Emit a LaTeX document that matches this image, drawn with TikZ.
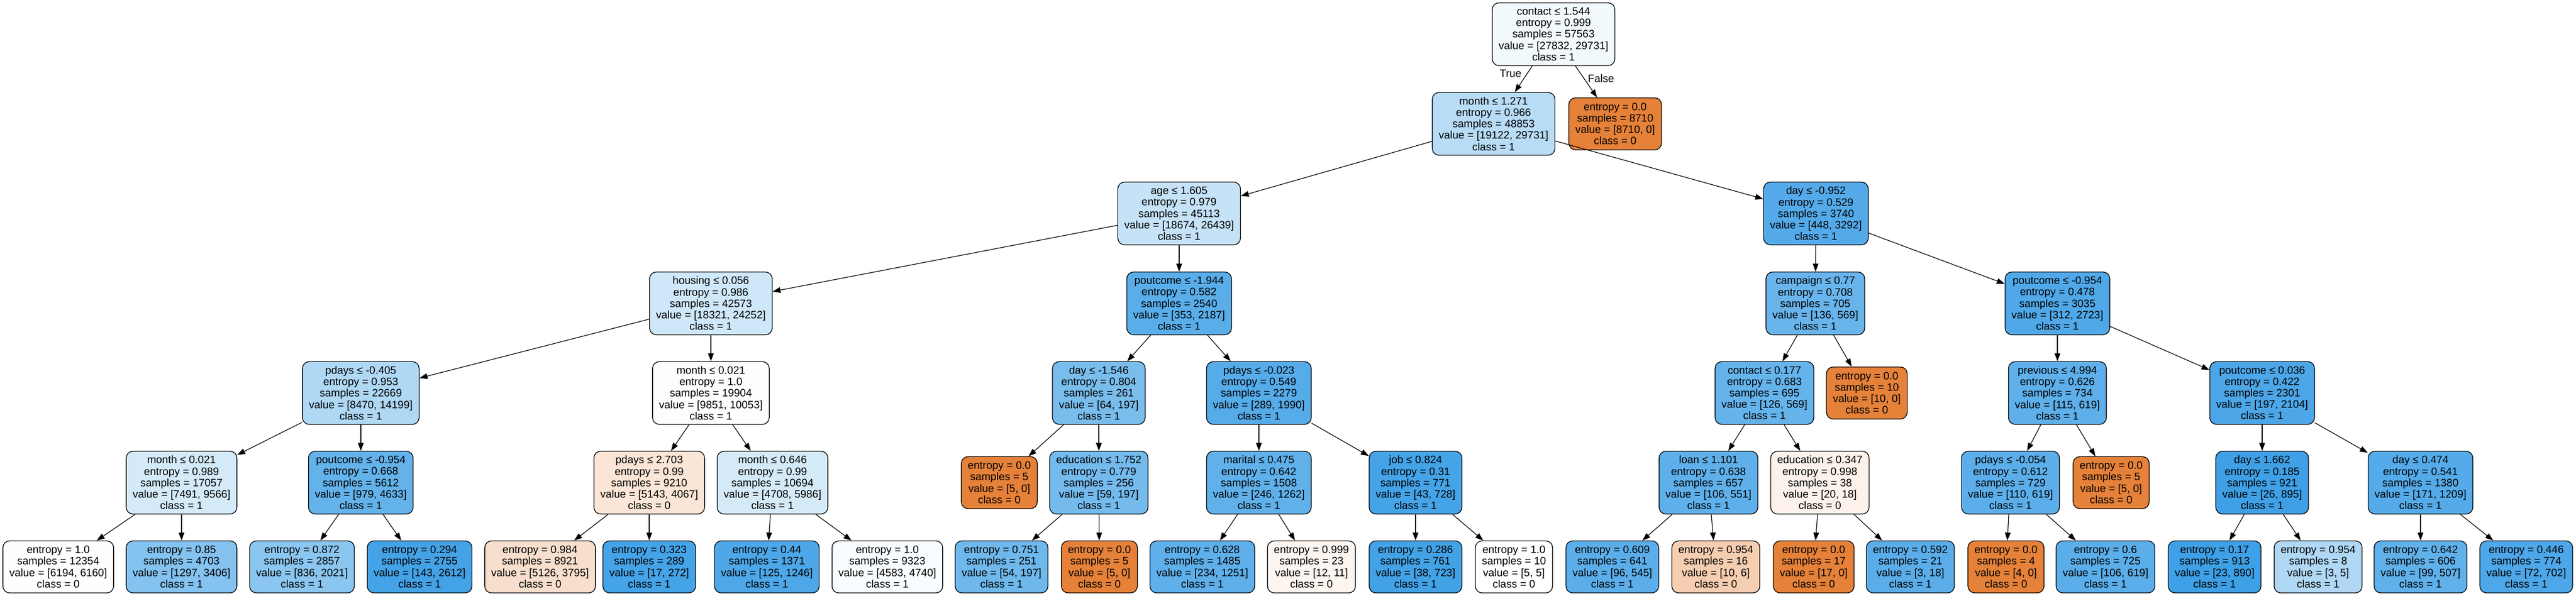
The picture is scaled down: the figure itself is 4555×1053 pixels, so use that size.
\documentclass[tikz,border=0pt]{standalone}
\usepackage{fontspec}
\setmainfont{Liberation Sans}
\usetikzlibrary{arrows.meta}
\definecolor{cA}{RGB}{229,129,57}
\definecolor{cB}{RGB}{57,157,229}
\begin{document}
\begin{tikzpicture}[x=1pt,y=-1pt,
  box/.style={draw=black, line width=1.3pt, rounded corners=12pt, align=center,
    font=\fontsize{19}{20.2}\selectfont, inner xsep=11.5pt, inner ysep=0pt},
  inode/.style={box, minimum height=111pt},
  leaf/.style={box, minimum height=92pt},
  link/.style={-{Triangle[length=14pt,width=10pt]}, line width=1.2pt},
  elabel/.style={font=\fontsize{19}{20.2}\selectfont, inner sep=0pt}
]
\useasboundingbox (0,0) rectangle (4555,1053);
\def\La{60.5}\def\Lb{219}\def\Lc{377.5}\def\Ld{536.5}\def\Le{695}\def\Lf{853.5}\def\Lg{1002.5}
% level 0
\node[inode, fill=cB!6.4!white] (n0) at (2747,\La) {contact ≤ 1.544\\entropy = 0.999\\samples = 57563\\value = [27832, 29731]\\class = 1};
% level 1
\node[inode, fill=cB!35.7!white] (n1) at (2641,\Lb) {month ≤ 1.271\\entropy = 0.966\\samples = 48853\\value = [19122, 29731]\\class = 1};
\node[leaf, fill=cA] (n2) at (2856,\Lb) {entropy = 0.0\\samples = 8710\\value = [8710, 0]\\class = 0};
% level 2
\node[inode, fill=cB!29.4!white] (n3) at (2085,\Lc) {age ≤ 1.605\\entropy = 0.979\\samples = 45113\\value = [18674, 26439]\\class = 1};
\node[inode, fill=cB!86.4!white] (n4) at (3211,\Lc) {day ≤ -0.952\\entropy = 0.529\\samples = 3740\\value = [448, 3292]\\class = 1};
% level 3
\node[inode, fill=cB!24.5!white] (n5) at (1257,\Ld) {housing ≤ 0.056\\entropy = 0.986\\samples = 42573\\value = [18321, 24252]\\class = 1};
\node[inode, fill=cB!83.9!white] (n6) at (2085,\Ld) {poutcome ≤ -1.944\\entropy = 0.582\\samples = 2540\\value = [353, 2187]\\class = 1};
\node[inode, fill=cB!76.1!white] (n7) at (3210,\Ld) {campaign ≤ 0.77\\entropy = 0.708\\samples = 705\\value = [136, 569]\\class = 1};
\node[inode, fill=cB!88.5!white] (n8) at (3638,\Ld) {poutcome ≤ -0.954\\entropy = 0.478\\samples = 3035\\value = [312, 2723]\\class = 1};
% level 4
\node[inode, fill=cB!40.3!white] (n9) at (638,\Le) {pdays ≤ -0.405\\entropy = 0.953\\samples = 22669\\value = [8470, 14199]\\class = 1};
\node[inode, fill=cB!2!white] (n10) at (1257,\Le) {month ≤ 0.021\\entropy = 1.0\\samples = 19904\\value = [9851, 10053]\\class = 1};
\node[inode, fill=cB!67.5!white] (n11) at (1943,\Le) {day ≤ -1.546\\entropy = 0.804\\samples = 261\\value = [64, 197]\\class = 1};
\node[inode, fill=cB!85.5!white] (n12) at (2226,\Le) {pdays ≤ -0.023\\entropy = 0.549\\samples = 2279\\value = [289, 1990]\\class = 1};
\node[inode, fill=cB!77.9!white] (n13) at (3120,\Le) {contact ≤ 0.177\\entropy = 0.683\\samples = 695\\value = [126, 569]\\class = 1};
\node[leaf, fill=cA] (n14) at (3301,\Le) {entropy = 0.0\\samples = 10\\value = [10, 0]\\class = 0};
\node[inode, fill=cB!81.4!white] (n15) at (3638,\Le) {previous ≤ 4.994\\entropy = 0.626\\samples = 734\\value = [115, 619]\\class = 1};
\node[inode, fill=cB!90.6!white] (n16) at (4000,\Le) {poutcome ≤ 0.036\\entropy = 0.422\\samples = 2301\\value = [197, 2104]\\class = 1};
% level 5
\node[inode, fill=cB!21.7!white] (n17) at (321,\Lf) {month ≤ 0.021\\entropy = 0.989\\samples = 17057\\value = [7491, 9566]\\class = 1};
\node[inode, fill=cB!78.9!white] (n18) at (638,\Lf) {poutcome ≤ -0.954\\entropy = 0.668\\samples = 5612\\value = [979, 4633]\\class = 1};
\node[inode, fill=cA!20.7!white] (n19) at (1148,\Lf) {pdays ≤ 2.703\\entropy = 0.99\\samples = 9210\\value = [5143, 4067]\\class = 0};
\node[inode, fill=cB!21.3!white] (n20) at (1366,\Lf) {month ≤ 0.646\\entropy = 0.99\\samples = 10694\\value = [4708, 5986]\\class = 1};
\node[leaf, fill=cA] (n21) at (1767,\Lf) {entropy = 0.0\\samples = 5\\value = [5, 0]\\class = 0};
\node[inode, fill=cB!70.1!white] (n22) at (1943,\Lf) {education ≤ 1.752\\entropy = 0.779\\samples = 256\\value = [59, 197]\\class = 1};
\node[inode, fill=cB!80.5!white] (n23) at (2226,\Lf) {marital ≤ 0.475\\entropy = 0.642\\samples = 1508\\value = [246, 1262]\\class = 1};
\node[inode, fill=cB!94.1!white] (n24) at (2503,\Lf) {job ≤ 0.824\\entropy = 0.31\\samples = 771\\value = [43, 728]\\class = 1};
\node[inode, fill=cB!80.8!white] (n25) at (3021,\Lf) {loan ≤ 1.101\\entropy = 0.638\\samples = 657\\value = [106, 551]\\class = 1};
\node[inode, fill=cA!10!white] (n26) at (3218,\Lf) {education ≤ 0.347\\entropy = 0.998\\samples = 38\\value = [20, 18]\\class = 0};
\node[inode, fill=cB!82.2!white] (n27) at (3555,\Lf) {pdays ≤ -0.054\\entropy = 0.612\\samples = 729\\value = [110, 619]\\class = 1};
\node[leaf, fill=cA] (n28) at (3733,\Lf) {entropy = 0.0\\samples = 5\\value = [5, 0]\\class = 0};
\node[inode, fill=cB!97.1!white] (n29) at (4000,\Lf) {day ≤ 1.662\\entropy = 0.185\\samples = 921\\value = [26, 895]\\class = 1};
\node[inode, fill=cB!85.9!white] (n30) at (4280,\Lf) {day ≤ 0.474\\entropy = 0.541\\samples = 1380\\value = [171, 1209]\\class = 1};
% level 6 leaves
\node[leaf, fill=cA!0.5!white] (l1) at (103,\Lg) {entropy = 1.0\\samples = 12354\\value = [6194, 6160]\\class = 0};
\node[leaf, fill=cB!61.9!white] (l2) at (321,\Lg) {entropy = 0.85\\samples = 4703\\value = [1297, 3406]\\class = 1};
\node[leaf, fill=cB!58.6!white] (l3) at (534,\Lg) {entropy = 0.872\\samples = 2857\\value = [836, 2021]\\class = 1};
\node[leaf, fill=cB!94.5!white] (l4) at (742,\Lg) {entropy = 0.294\\samples = 2755\\value = [143, 2612]\\class = 1};
\node[leaf, fill=cA!26!white] (l5) at (955,\Lg) {entropy = 0.984\\samples = 8921\\value = [5126, 3795]\\class = 0};
\node[leaf, fill=cB!93.8!white] (l6) at (1148,\Lg) {entropy = 0.323\\samples = 289\\value = [17, 272]\\class = 1};
\node[leaf, fill=cB!90!white] (l7) at (1356,\Lg) {entropy = 0.44\\samples = 1371\\value = [125, 1246]\\class = 1};
\node[leaf, fill=cB!3.3!white] (l8) at (1569,\Lg) {entropy = 1.0\\samples = 9323\\value = [4583, 4740]\\class = 1};
\node[leaf, fill=cB!72.6!white] (l9) at (1771,\Lg) {entropy = 0.751\\samples = 251\\value = [54, 197]\\class = 1};
\node[leaf, fill=cA] (l10) at (1944,\Lg) {entropy = 0.0\\samples = 5\\value = [5, 0]\\class = 0};
\node[leaf, fill=cB!81.3!white] (l11) at (2126,\Lg) {entropy = 0.628\\samples = 1485\\value = [234, 1251]\\class = 1};
\node[leaf, fill=cA!8.3!white] (l12) at (2319,\Lg) {entropy = 0.999\\samples = 23\\value = [12, 11]\\class = 0};
\node[leaf, fill=cB!94.7!white] (l13) at (2503,\Lg) {entropy = 0.286\\samples = 761\\value = [38, 723]\\class = 1};
\node[leaf, fill=white] (l14) at (2677,\Lg) {entropy = 1.0\\samples = 10\\value = [5, 5]\\class = 0};
\node[leaf, fill=cB!82.4!white] (l15) at (2851,\Lg) {entropy = 0.609\\samples = 641\\value = [96, 545]\\class = 1};
\node[leaf, fill=cA!40!white] (l16) at (3034,\Lg) {entropy = 0.954\\samples = 16\\value = [10, 6]\\class = 0};
\node[leaf, fill=cA] (l17) at (3207,\Lg) {entropy = 0.0\\samples = 17\\value = [17, 0]\\class = 0};
\node[leaf, fill=cB!83.3!white] (l18) at (3378,\Lg) {entropy = 0.592\\samples = 21\\value = [3, 18]\\class = 1};
\node[leaf, fill=cA] (l19) at (3547,\Lg) {entropy = 0.0\\samples = 4\\value = [4, 0]\\class = 0};
\node[leaf, fill=cB!82.9!white] (l20) at (3723,\Lg) {entropy = 0.6\\samples = 725\\value = [106, 619]\\class = 1};
\node[leaf, fill=cB!97.4!white] (l21) at (3916,\Lg) {entropy = 0.17\\samples = 913\\value = [23, 890]\\class = 1};
\node[leaf, fill=cB!40!white] (l22) at (4099,\Lg) {entropy = 0.954\\samples = 8\\value = [3, 5]\\class = 1};
\node[leaf, fill=cB!80.5!white] (l23) at (4280,\Lg) {entropy = 0.642\\samples = 606\\value = [99, 507]\\class = 1};
\node[leaf, fill=cB!89.7!white] (l24) at (4467,\Lg) {entropy = 0.446\\samples = 774\\value = [72, 702]\\class = 1};
% edges
\draw[link] (n0) -- (n1);
\draw[link] (n0) -- (n2);
\node[elabel] (tlab) at (2671,130) {True};
\node[elabel] (flab) at (2831,139) {False};
\foreach \p/\c in {n1/n3, n1/n4, n3/n5, n3/n6, n4/n7, n4/n8,
  n5/n9, n5/n10, n6/n11, n6/n12, n7/n13, n7/n14, n8/n15, n8/n16,
  n9/n17, n9/n18, n10/n19, n10/n20, n11/n21, n11/n22, n12/n23, n12/n24,
  n13/n25, n13/n26, n15/n27, n15/n28, n16/n29, n16/n30,
  n17/l1, n17/l2, n18/l3, n18/l4, n19/l5, n19/l6, n20/l7, n20/l8,
  n22/l9, n22/l10, n23/l11, n23/l12, n24/l13, n24/l14, n25/l15, n25/l16,
  n26/l17, n26/l18, n27/l19, n27/l20, n29/l21, n29/l22, n30/l23, n30/l24}
  \draw[link] (\p) -- (\c);
\end{tikzpicture}
\end{document}
